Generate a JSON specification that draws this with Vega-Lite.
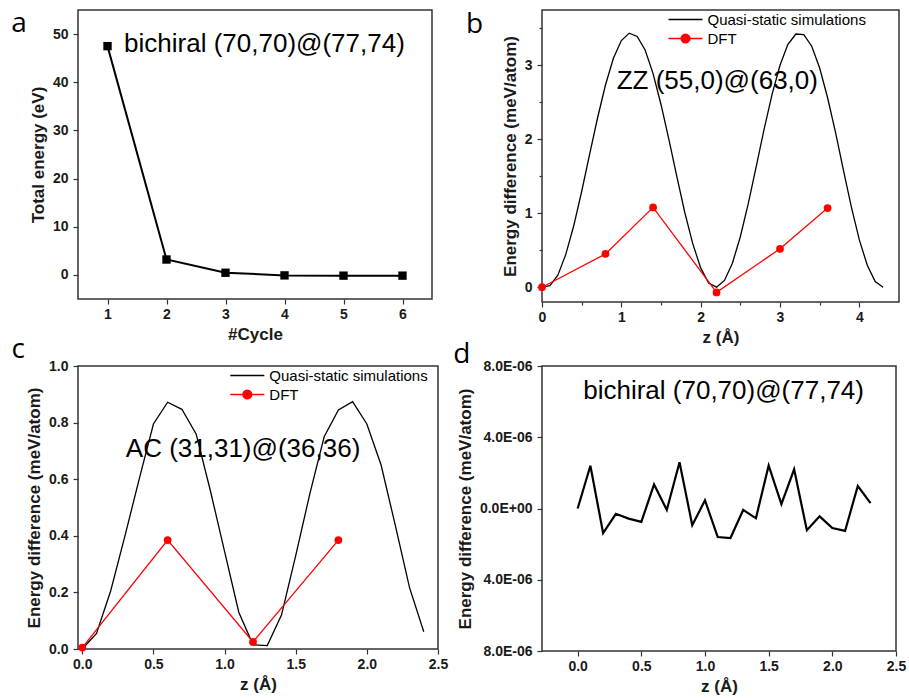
{
  "$schema": "https://vega.github.io/schema/vega-lite/v6.json",
  "background": "white",
  "padding": {"left": 10, "top": 9, "right": 5, "bottom": 5},
  "config": {
    "view": {"stroke": "#333333", "strokeWidth": 1.5},
    "axis": {
      "domain": false, "grid": false,
      "labelFont": "Liberation Sans", "labelFontSize": 14, "labelFontWeight": "bold", "labelColor": "#1a1a1a",
      "titleFont": "Liberation Sans", "titleFontSize": 17, "titleFontWeight": "bold", "titleColor": "#1a1a1a",
      "tickColor": "#333333", "tickWidth": 1.2, "labelFlush": false, "labelOverlap": false,
      "labelPadding": 3, "titlePadding": 5
    },
    "axisY": {"labelPadding": 5},
    "legend": {
      "labelFont": "Liberation Sans", "labelFontSize": 15, "labelColor": "#000000", "padding": 0,
      "labelLimit": 400, "symbolSize": 1156, "symbolStrokeWidth": 1.4, "clipHeight": 19,
      "labelOffset": 4, "rowPadding": 0
    }
  },
  "resolve": {"scale": {"color": "independent"}, "legend": {"color": "independent"}},
  "columns": 2,
  "align": "none",
  "bounds": "flush",
  "spacing": {"row": 64, "column": 104},
  "datasets": {
    "cyc": [
      {"cycle": 1, "energy": 47.5},
      {"cycle": 2, "energy": 3.2},
      {"cycle": 3, "energy": 0.45},
      {"cycle": 4, "energy": -0.1},
      {"cycle": 5, "energy": -0.15},
      {"cycle": 6, "energy": -0.15}
    ],
    "zz": [
      {"z": 0.0, "e": 0.0, "series": "Quasi-static simulations"},
      {"z": 0.1, "e": 0.02, "series": "Quasi-static simulations"},
      {"z": 0.2, "e": 0.163, "series": "Quasi-static simulations"},
      {"z": 0.3, "e": 0.444, "series": "Quasi-static simulations"},
      {"z": 0.4, "e": 0.831, "series": "Quasi-static simulations"},
      {"z": 0.5, "e": 1.295, "series": "Quasi-static simulations"},
      {"z": 0.6, "e": 1.796, "series": "Quasi-static simulations"},
      {"z": 0.7, "e": 2.289, "series": "Quasi-static simulations"},
      {"z": 0.8, "e": 2.735, "series": "Quasi-static simulations"},
      {"z": 0.9, "e": 3.096, "series": "Quasi-static simulations"},
      {"z": 1.0, "e": 3.337, "series": "Quasi-static simulations"},
      {"z": 1.1, "e": 3.437, "series": "Quasi-static simulations"},
      {"z": 1.2, "e": 3.392, "series": "Quasi-static simulations"},
      {"z": 1.3, "e": 3.209, "series": "Quasi-static simulations"},
      {"z": 1.4, "e": 2.89, "series": "Quasi-static simulations"},
      {"z": 1.5, "e": 2.472, "series": "Quasi-static simulations"},
      {"z": 1.6, "e": 1.997, "series": "Quasi-static simulations"},
      {"z": 1.7, "e": 1.495, "series": "Quasi-static simulations"},
      {"z": 1.8, "e": 1.011, "series": "Quasi-static simulations"},
      {"z": 1.9, "e": 0.59, "series": "Quasi-static simulations"},
      {"z": 2.0, "e": 0.261, "series": "Quasi-static simulations"},
      {"z": 2.1, "e": 0.057, "series": "Quasi-static simulations"},
      {"z": 2.2, "e": 0.001, "series": "Quasi-static simulations"},
      {"z": 2.3, "e": 0.092, "series": "Quasi-static simulations"},
      {"z": 2.4, "e": 0.325, "series": "Quasi-static simulations"},
      {"z": 2.5, "e": 0.683, "series": "Quasi-static simulations"},
      {"z": 2.6, "e": 1.13, "series": "Quasi-static simulations"},
      {"z": 2.7, "e": 1.631, "series": "Quasi-static simulations"},
      {"z": 2.8, "e": 2.14, "series": "Quasi-static simulations"},
      {"z": 2.9, "e": 2.609, "series": "Quasi-static simulations"},
      {"z": 3.0, "e": 3.003, "series": "Quasi-static simulations"},
      {"z": 3.1, "e": 3.285, "series": "Quasi-static simulations"},
      {"z": 3.2, "e": 3.425, "series": "Quasi-static simulations"},
      {"z": 3.3, "e": 3.418, "series": "Quasi-static simulations"},
      {"z": 3.4, "e": 3.26, "series": "Quasi-static simulations"},
      {"z": 3.5, "e": 2.965, "series": "Quasi-static simulations"},
      {"z": 3.6, "e": 2.563, "series": "Quasi-static simulations"},
      {"z": 3.7, "e": 2.095, "series": "Quasi-static simulations"},
      {"z": 3.8, "e": 1.579, "series": "Quasi-static simulations"},
      {"z": 3.9, "e": 1.082, "series": "Quasi-static simulations"},
      {"z": 4.0, "e": 0.64, "series": "Quasi-static simulations"},
      {"z": 4.1, "e": 0.298, "series": "Quasi-static simulations"},
      {"z": 4.2, "e": 0.077, "series": "Quasi-static simulations"},
      {"z": 4.3, "e": 0.0, "series": "Quasi-static simulations"},
      {"z": 0.0, "e": 0.0, "series": "DFT"},
      {"z": 0.8, "e": 0.45, "series": "DFT"},
      {"z": 1.4, "e": 1.08, "series": "DFT"},
      {"z": 2.2, "e": -0.07, "series": "DFT"},
      {"z": 3.0, "e": 0.52, "series": "DFT"},
      {"z": 3.6, "e": 1.07, "series": "DFT"}
    ],
    "ac": [
      {"z": 0.0, "e": 0.0, "series": "Quasi-static simulations"},
      {"z": 0.1, "e": 0.055, "series": "Quasi-static simulations"},
      {"z": 0.2, "e": 0.206, "series": "Quasi-static simulations"},
      {"z": 0.3, "e": 0.4, "series": "Quasi-static simulations"},
      {"z": 0.4, "e": 0.6, "series": "Quasi-static simulations"},
      {"z": 0.5, "e": 0.795, "series": "Quasi-static simulations"},
      {"z": 0.6, "e": 0.872, "series": "Quasi-static simulations"},
      {"z": 0.7, "e": 0.847, "series": "Quasi-static simulations"},
      {"z": 0.8, "e": 0.76, "series": "Quasi-static simulations"},
      {"z": 0.9, "e": 0.56, "series": "Quasi-static simulations"},
      {"z": 1.0, "e": 0.345, "series": "Quasi-static simulations"},
      {"z": 1.1, "e": 0.13, "series": "Quasi-static simulations"},
      {"z": 1.2, "e": 0.015, "series": "Quasi-static simulations"},
      {"z": 1.3, "e": 0.012, "series": "Quasi-static simulations"},
      {"z": 1.4, "e": 0.12, "series": "Quasi-static simulations"},
      {"z": 1.5, "e": 0.33, "series": "Quasi-static simulations"},
      {"z": 1.6, "e": 0.55, "series": "Quasi-static simulations"},
      {"z": 1.7, "e": 0.75, "series": "Quasi-static simulations"},
      {"z": 1.8, "e": 0.845, "series": "Quasi-static simulations"},
      {"z": 1.9, "e": 0.874, "series": "Quasi-static simulations"},
      {"z": 2.0, "e": 0.795, "series": "Quasi-static simulations"},
      {"z": 2.1, "e": 0.65, "series": "Quasi-static simulations"},
      {"z": 2.2, "e": 0.437, "series": "Quasi-static simulations"},
      {"z": 2.3, "e": 0.217, "series": "Quasi-static simulations"},
      {"z": 2.4, "e": 0.061, "series": "Quasi-static simulations"},
      {"z": 0.0, "e": 0.005, "series": "DFT"},
      {"z": 0.6, "e": 0.385, "series": "DFT"},
      {"z": 1.2, "e": 0.025, "series": "DFT"},
      {"z": 1.8, "e": 0.385, "series": "DFT"}
    ],
    "bi": [
      {"z": 0.0, "e": 0.0},
      {"z": 0.1, "e": 2.4e-6},
      {"z": 0.2, "e": -1.38e-6},
      {"z": 0.3, "e": -0.3e-6},
      {"z": 0.4, "e": -0.57e-6},
      {"z": 0.5, "e": -0.75e-6},
      {"z": 0.6, "e": 1.35e-6},
      {"z": 0.7, "e": -0.08e-6},
      {"z": 0.8, "e": 2.6e-6},
      {"z": 0.9, "e": -0.94e-6},
      {"z": 1.0, "e": 0.46e-6},
      {"z": 1.1, "e": -1.6e-6},
      {"z": 1.2, "e": -1.66e-6},
      {"z": 1.3, "e": -0.08e-6},
      {"z": 1.4, "e": -0.55e-6},
      {"z": 1.5, "e": 2.42e-6},
      {"z": 1.6, "e": 0.25e-6},
      {"z": 1.7, "e": 2.2e-6},
      {"z": 1.8, "e": -1.22e-6},
      {"z": 1.9, "e": -0.44e-6},
      {"z": 2.0, "e": -1.1e-6},
      {"z": 2.1, "e": -1.26e-6},
      {"z": 2.2, "e": 1.26e-6},
      {"z": 2.3, "e": 0.3e-6}
    ]
  },
  "concat": [
    {
      "width": 354, "height": 289,
      "data": {"name": "cyc"},
      "layer": [
        {
          "mark": {"type": "line", "color": "#000000", "strokeWidth": 2},
          "encoding": {
            "x": {"field": "cycle", "type": "quantitative", "scale": {"domain": [0.5, 6.5], "nice": false, "zero": false},
              "axis": {"title": "#Cycle", "values": [1, 1.5, 2, 2.5, 3, 3.5, 4, 4.5, 5, 5.5, 6],
                "labelExpr": "datum.value % 1 ? '' : format(datum.value, 'd')",
                "tickSize": {"condition": {"test": "datum.value % 1 !== 0", "value": 3}, "value": 5}}},
            "y": {"field": "energy", "type": "quantitative", "scale": {"domain": [-5, 55], "nice": false, "zero": false},
              "axis": {"title": "Total energy (eV)", "values": [0, 5, 10, 15, 20, 25, 30, 35, 40, 45, 50],
                "labelExpr": "datum.value % 10 ? '' : format(datum.value, 'd')",
                "tickSize": {"condition": {"test": "datum.value % 10 !== 0", "value": 3}, "value": 5}}}
          }
        },
        {
          "mark": {"type": "point", "shape": "square", "filled": true, "color": "#000000", "size": 70, "opacity": 1},
          "encoding": {
            "x": {"field": "cycle", "type": "quantitative"},
            "y": {"field": "energy", "type": "quantitative"}
          }
        },
        {
          "data": {"values": [{"label": "bichiral (70,70)@(77,74)"}]},
          "mark": {"type": "text", "font": "Liberation Sans", "fontSize": 26, "align": "center", "baseline": "middle", "color": "#000000"},
          "encoding": {
            "x": {"datum": 3.66, "type": "quantitative"},
            "y": {"datum": 47.9, "type": "quantitative"},
            "text": {"field": "label"}
          }
        },
        {
          "data": {"values": [{"letter": "a"}]},
          "mark": {"type": "text", "font": "Open Sans", "fontSize": 28, "align": "center", "baseline": "alphabetic", "color": "#000000"},
          "encoding": {
            "x": {"datum": -0.5, "type": "quantitative"},
            "y": {"datum": 50.4, "type": "quantitative"},
            "text": {"field": "letter"}
          }
        }
      ]
    },
    {
      "width": 357, "height": 292,
      "data": {"name": "zz"},
      "layer": [
        {
          "mark": {"type": "line", "strokeWidth": 1.3},
          "encoding": {
            "x": {"field": "z", "type": "quantitative", "scale": {"domain": [0, 4.5], "nice": false, "zero": false},
              "axis": {"title": "z (Å)", "values": [0, 0.5, 1, 1.5, 2, 2.5, 3, 3.5, 4],
                "labelExpr": "datum.value % 1 ? '' : format(datum.value, 'd')",
                "tickSize": {"condition": {"test": "datum.value % 1 !== 0", "value": 3}, "value": 5}}},
            "y": {"field": "e", "type": "quantitative", "scale": {"domain": [-0.2, 3.75], "nice": false, "zero": false},
              "axis": {"title": "Energy difference (meV/atom)", "values": [0, 0.5, 1, 1.5, 2, 2.5, 3, 3.5],
                "labelExpr": "datum.value % 1 ? '' : format(datum.value, 'd')",
                "tickSize": {"condition": {"test": "datum.value % 1 !== 0", "value": 3}, "value": 5}}},
            "color": {"field": "series", "type": "nominal",
              "scale": {"domain": ["Quasi-static simulations", "DFT"], "range": ["#000000", "#ff0000"]},
              "legend": {"title": null, "orient": "none", "legendX": 125.5, "legendY": 0,
                "encode": {"symbols": {"update": {
                  "shape": {"signal": "datum.value === 'DFT' ? 'M-1,0H1M0.26,0A0.26,0.26,0,1,1,-0.26,0A0.26,0.26,0,1,1,0.26,0Z' : 'stroke'"},
                  "fill": {"signal": "datum.value === 'DFT' ? '#ff0000' : 'transparent'"},
                  "stroke": {"signal": "datum.value === 'DFT' ? '#ff0000' : '#000000'"}
                }}}}}
          }
        },
        {
          "transform": [{"filter": "datum.series === 'DFT'"}],
          "mark": {"type": "point", "filled": true, "color": "#ff0000", "size": 60, "opacity": 1},
          "encoding": {
            "x": {"field": "z", "type": "quantitative"},
            "y": {"field": "e", "type": "quantitative"}
          }
        },
        {
          "data": {"values": [{"label": "ZZ (55,0)@(63,0)"}]},
          "mark": {"type": "text", "font": "Liberation Sans", "fontSize": 26, "align": "center", "baseline": "middle", "color": "#000000"},
          "encoding": {
            "x": {"datum": 2.21, "type": "quantitative"},
            "y": {"datum": 2.79, "type": "quantitative"},
            "text": {"field": "label"}
          }
        },
        {
          "data": {"values": [{"letter": "b"}]},
          "mark": {"type": "text", "font": "Open Sans", "fontSize": 28, "align": "center", "baseline": "alphabetic", "color": "#000000"},
          "encoding": {
            "x": {"datum": -0.85, "type": "quantitative"},
            "y": {"datum": 3.44, "type": "quantitative"},
            "text": {"field": "letter"}
          }
        }
      ]
    },
    {
      "width": 360, "height": 283,
      "data": {"name": "ac"},
      "layer": [
        {
          "mark": {"type": "line", "strokeWidth": 1.3},
          "encoding": {
            "x": {"field": "z", "type": "quantitative", "scale": {"domain": [-0.03, 2.5], "nice": false, "zero": false},
              "axis": {"title": "z (Å)", "values": [0, 0.25, 0.5, 0.75, 1, 1.25, 1.5, 1.75, 2, 2.25, 2.5],
                "labelExpr": "round(datum.value * 100) % 50 ? '' : format(datum.value, '.1f')",
                "tickSize": {"condition": {"test": "round(datum.value * 100) % 50 !== 0", "value": 3}, "value": 5}}},
            "y": {"field": "e", "type": "quantitative", "scale": {"domain": [0, 1], "nice": false, "zero": false},
              "axis": {"title": "Energy difference (meV/atom)", "values": [0, 0.1, 0.2, 0.3, 0.4, 0.5, 0.6, 0.7, 0.8, 0.9, 1],
                "labelExpr": "round(datum.value * 10) % 2 ? '' : format(datum.value, '.1f')",
                "tickSize": {"condition": {"test": "round(datum.value * 10) % 2 !== 0", "value": 3}, "value": 5}}},
            "color": {"field": "series", "type": "nominal",
              "scale": {"domain": ["Quasi-static simulations", "DFT"], "range": ["#000000", "#ff0000"]},
              "legend": {"title": null, "orient": "none", "legendX": 151.3, "legendY": 0,
                "encode": {"symbols": {"update": {
                  "shape": {"signal": "datum.value === 'DFT' ? 'M-1,0H1M0.26,0A0.26,0.26,0,1,1,-0.26,0A0.26,0.26,0,1,1,0.26,0Z' : 'stroke'"},
                  "fill": {"signal": "datum.value === 'DFT' ? '#ff0000' : 'transparent'"},
                  "stroke": {"signal": "datum.value === 'DFT' ? '#ff0000' : '#000000'"}
                }}}}}
          }
        },
        {
          "transform": [{"filter": "datum.series === 'DFT'"}],
          "mark": {"type": "point", "filled": true, "color": "#ff0000", "size": 60, "opacity": 1},
          "encoding": {
            "x": {"field": "z", "type": "quantitative"},
            "y": {"field": "e", "type": "quantitative"}
          }
        },
        {
          "data": {"values": [{"label": "AC (31,31)@(36,36)"}]},
          "mark": {"type": "text", "font": "Liberation Sans", "fontSize": 26, "align": "center", "baseline": "middle", "color": "#000000"},
          "encoding": {
            "x": {"datum": 1.13, "type": "quantitative"},
            "y": {"datum": 0.707, "type": "quantitative"},
            "text": {"field": "label"}
          }
        },
        {
          "data": {"values": [{"letter": "c"}]},
          "mark": {"type": "text", "font": "Open Sans", "fontSize": 28, "align": "center", "baseline": "alphabetic", "color": "#000000"},
          "encoding": {
            "x": {"datum": -0.45, "type": "quantitative"},
            "y": {"datum": 1.028, "type": "quantitative"},
            "text": {"field": "letter"}
          }
        }
      ]
    },
    {
      "width": 354, "height": 285,
      "data": {"name": "bi"},
      "layer": [
        {
          "mark": {"type": "line", "color": "#000000", "strokeWidth": 2.2},
          "encoding": {
            "x": {"field": "z", "type": "quantitative", "scale": {"domain": [-0.28, 2.5], "nice": false, "zero": false},
              "axis": {"title": "z (Å)", "values": [0, 0.25, 0.5, 0.75, 1, 1.25, 1.5, 1.75, 2, 2.25, 2.5],
                "labelExpr": "round(datum.value * 100) % 50 ? '' : format(datum.value, '.1f')",
                "tickSize": {"condition": {"test": "round(datum.value * 100) % 50 !== 0", "value": 3}, "value": 5}}},
            "y": {"field": "e", "type": "quantitative", "scale": {"domain": [-8e-6, 8e-6], "nice": false, "zero": false},
              "axis": {"title": "Energy difference (meV/atom)", "values": [-8e-6, -6e-6, -4e-6, -2e-6, 0, 2e-6, 4e-6, 6e-6, 8e-6],
                "labelExpr": "round(datum.value * 1e6) % 4 ? '' : (datum.value == 0 ? '0.0E+00' : replace(upper(format(abs(datum.value), '.1e')), 'E-', 'E-0'))",
                "tickSize": {"condition": {"test": "round(datum.value * 1e6) % 4 !== 0", "value": 3}, "value": 5}}}
          }
        },
        {
          "data": {"values": [{"label": "bichiral (70,70)@(77,74)"}]},
          "mark": {"type": "text", "font": "Liberation Sans", "fontSize": 26, "align": "center", "baseline": "middle", "color": "#000000"},
          "encoding": {
            "x": {"datum": 1.146, "type": "quantitative"},
            "y": {"datum": 6.6e-6, "type": "quantitative"},
            "text": {"field": "label"}
          }
        },
        {
          "data": {"values": [{"letter": "d"}]},
          "mark": {"type": "text", "font": "Open Sans", "fontSize": 28, "align": "center", "baseline": "alphabetic", "color": "#000000"},
          "encoding": {
            "x": {"datum": -0.91, "type": "quantitative"},
            "y": {"datum": 8.17e-6, "type": "quantitative"},
            "text": {"field": "letter"}
          }
        }
      ]
    }
  ]
}
